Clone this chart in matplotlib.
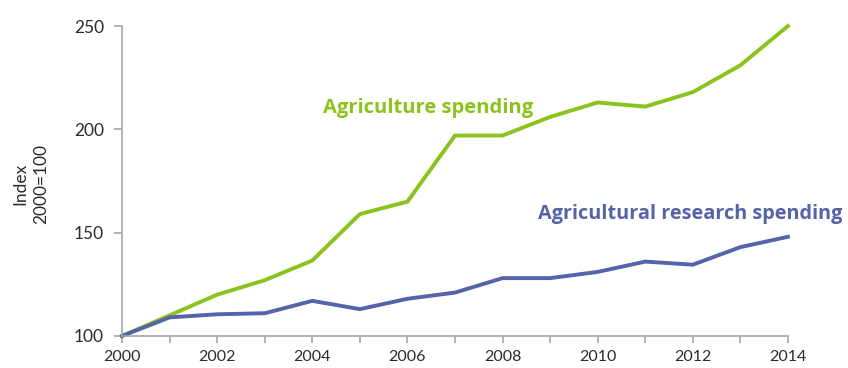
import matplotlib
matplotlib.use("Agg")
import matplotlib.pyplot as plt

years = list(range(2000, 2015))
agriculture = [100, 110, 120, 127, 136.5, 159, 165, 197, 197, 206, 213, 211, 218, 231, 250]
research = [100, 109, 110.5, 111, 117, 113, 118, 121, 128, 128, 131, 136, 134.5, 143, 148]

green = "#8CC21E"
blue = "#5563A9"
text_color = "#2B2B2B"
axis_color = "#A6A6A6"

plt.rcParams["font.family"] = ["Lato", "DejaVu Sans"]

fig = plt.figure(figsize=(8.48, 3.68), dpi=100)
ax = fig.add_axes([0.1439, 0.087, 0.7853, 0.8423])

ax.plot(years, agriculture, color=green, lw=2.8, solid_joinstyle="miter", clip_on=False)
ax.plot(years, research, color=blue, lw=2.8, solid_joinstyle="miter", clip_on=False)

ax.set_xlim(2000, 2014)
ax.set_ylim(100, 250)
ax.set_xticks(years, minor=True)
ax.set_xticks(range(2000, 2015, 2))
ax.set_yticks([100, 150, 200, 250])

for s in ("top", "right"):
    ax.spines[s].set_visible(False)
for s in ("left", "bottom"):
    ax.spines[s].set_color(axis_color)
    ax.spines[s].set_linewidth(1.2)

ax.tick_params(axis="both", which="both", direction="out", color=axis_color,
               width=1.2, labelsize=12.5, labelcolor=text_color)
ax.tick_params(axis="x", which="both", length=5, pad=5, labelsize=11.5)
ax.tick_params(axis="y", length=6, pad=7)

fig.text(31 / 848, 1 - 183.5 / 368, "Index\n2000=100", rotation=90, fontsize=12.5,
         color=text_color, ha="center", va="center", linespacing=1.4,
         multialignment="center")

ax.text(2004.23, 207.9, "Agriculture spending", color=green, fontsize=14.5,
        fontweight="bold", family="Open Sans", ha="left", va="baseline")
ax.text(2008.74, 156.6, "Agricultural research spending", color=blue, fontsize=14.3,
        fontweight="bold", family="Open Sans", ha="left", va="baseline", clip_on=False)

fig.savefig("out.png", dpi=100)
